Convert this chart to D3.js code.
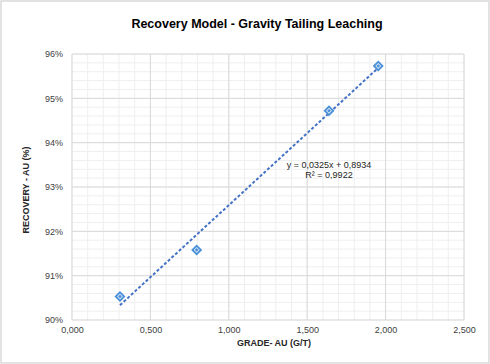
<!DOCTYPE html>
<html><head><meta charset="utf-8">
<script src="https://cdn.jsdelivr.net/npm/d3@7"></script>
<style>body{margin:0;background:#fff;}svg{display:block;font-family:"Liberation Sans",Arial,sans-serif;}</style>
</head><body>
<script>
const grade = [0.306, 0.795, 1.639, 1.953];
const recovery = [0.9053, 0.9158, 0.9472, 0.9573];
const slope = 0.0325, intercept = 0.8934;
const xTicks = [0, 0.5, 1.0, 1.5, 2.0, 2.5];
const yTicks = [0.90, 0.91, 0.92, 0.93, 0.94, 0.95, 0.96];
const title = "Recovery Model - Gravity Tailing Leaching";
const xTitle = "GRADE- AU (G/T)";
const yTitle = "RECOVERY - AU (%)";
const eqLines = ["y = 0,0325x + 0,8934", "R² = 0,9922"];

const W = 490, H = 364;
const m = {l:72, r:26, t:54, b:44};
const svg = d3.select("body").append("svg").attr("width", W).attr("height", H);
svg.append("rect").attr("x",1).attr("y",1).attr("width",W-2).attr("height",H-2)
  .attr("fill","#fff").attr("stroke","#d0d0d0").attr("stroke-width",1.2);

const x = d3.scaleLinear().domain([0,2.5]).range([m.l, W-m.r]);
const y = d3.scaleLinear().domain([0.90,0.96]).range([H-m.b, m.t]);

const g = svg.append("g");
// minor grid
const xMinor = d3.range(0, 2.5001, 0.1);
const yMinor = d3.range(0.90, 0.96001, 0.002);
g.selectAll(".xm").data(xMinor).join("line")
  .attr("x1",d=>x(d)).attr("x2",d=>x(d)).attr("y1",y(0.90)).attr("y2",y(0.96))
  .attr("stroke","#efefef").attr("stroke-width",1);
g.selectAll(".ym").data(yMinor).join("line")
  .attr("y1",d=>y(d)).attr("y2",d=>y(d)).attr("x1",x(0)).attr("x2",x(2.5))
  .attr("stroke","#efefef").attr("stroke-width",1);
// major grid
g.selectAll(".xM").data(xTicks).join("line")
  .attr("x1",d=>x(d)).attr("x2",d=>x(d)).attr("y1",y(0.90)).attr("y2",y(0.96))
  .attr("stroke","#d9d9d9").attr("stroke-width",1);
g.selectAll(".yM").data(yTicks).join("line")
  .attr("y1",d=>y(d)).attr("y2",d=>y(d)).attr("x1",x(0)).attr("x2",x(2.5))
  .attr("stroke","#d9d9d9").attr("stroke-width",1);

// axes labels
const fmtX = d => d3.format(".3f")(d).replace(".", ",");
const xAxis = d3.axisBottom(x).tickValues(xTicks).tickFormat(fmtX).tickSize(0).tickPadding(7);
const ax = svg.append("g").attr("transform",`translate(0,${y(0.90)})`).call(xAxis);
ax.select(".domain").remove();
ax.selectAll("text").attr("font-size",9).attr("fill","#404040").attr("font-family","Liberation Sans, Arial, sans-serif");
const yAxis = d3.axisLeft(y).tickValues(yTicks).tickFormat(d3.format(".0%")).tickSize(0).tickPadding(9);
const ay = svg.append("g").attr("transform",`translate(${x(0)},0)`).call(yAxis);
ay.select(".domain").remove();
ay.selectAll("text").attr("font-size",9).attr("fill","#404040").attr("font-family","Liberation Sans, Arial, sans-serif");

// trendline
const x0 = d3.min(grade), x1 = d3.max(grade);
svg.append("line")
  .attr("x1",x(x0)).attr("y1",y(slope*x0+intercept))
  .attr("x2",x(x1)).attr("y2",y(slope*x1+intercept))
  .attr("stroke","#4472c4").attr("stroke-width",2).attr("stroke-dasharray","3,2");

// points
const pts = grade.map((d,i)=>[d, recovery[i]]);
const diamond = d3.symbol().type(d3.symbolSquare).size(36);
const pg = svg.selectAll(".pt").data(pts).join("g")
  .attr("transform",d=>`translate(${x(d[0])},${y(d[1])}) rotate(45)`);
pg.append("path").attr("d",diamond).attr("fill","#dbe9f7").attr("stroke","#4a90d9").attr("stroke-width",1.8);
pg.append("rect").attr("x",-1.3).attr("y",-1.3).attr("width",2.6).attr("height",2.6).attr("fill","#4a90d9");

// equation
svg.append("text").attr("x",329).attr("y",168).attr("text-anchor","middle")
  .attr("font-size",9).attr("fill","#262626").text(eqLines[0]);
svg.append("text").attr("x",329).attr("y",178).attr("text-anchor","middle")
  .attr("font-size",9).attr("fill","#262626").text(eqLines[1]);

// titles
svg.append("text").attr("x",257).attr("y",28).attr("text-anchor","middle")
  .attr("font-size",12.5).attr("font-weight","bold").attr("fill","#000").text(title);
svg.append("text").attr("x",274).attr("y",346).attr("text-anchor","middle")
  .attr("font-size",9).attr("font-weight","bold").attr("fill","#262626").text(xTitle);
svg.append("text").attr("transform",`translate(29,190) rotate(-90)`).attr("text-anchor","middle")
  .attr("font-size",9).attr("font-weight","bold").attr("fill","#262626").text(yTitle);
</script>
</body></html>
